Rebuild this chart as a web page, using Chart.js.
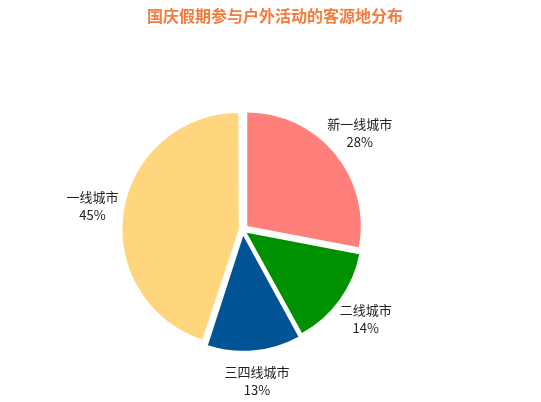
<!DOCTYPE html>
<html><head><meta charset="utf-8">
<script src="https://cdn.jsdelivr.net/npm/chart.js@4.4.1/dist/chart.umd.min.js"></script>
<style>html,body{margin:0;padding:0;background:#fff;} #wrap{width:541px;height:402px;position:relative;}</style>
</head><body><div id="wrap"><canvas id="c"></canvas></div>
<script>
const chartTitle = '国庆假期参与户外活动的客源地分布';
const categories = ['新一线城市', '二线城市', '三四线城市', '一线城市'];
const shares = [28, 14, 13, 45];
const sliceColors = ['#FF807A', '#009100', '#005495', '#FFD57E'];
// visual gap (px) each slice is pulled out from the centre
const sliceGap = [6, 6, 7.5, 6.8];

// Chart.js v4 applies offset/4 * (2 - sin(circumference)); invert that
const total = shares.reduce((a, b) => a + b, 0);
const arcOffsets = shares.map((v, i) => {
  const circ = v / total * 2 * Math.PI;
  return 4 * sliceGap[i] / (2 - Math.sin(Math.min(Math.PI, circ)));
});

const placeArea = {
  id: 'placeArea',
  afterLayout(chart) {
    const a = chart.chartArea;
    a.left = 122.7; a.right = 362.7; a.top = 109.8; a.bottom = 349.8;
    a.width = a.right - a.left; a.height = a.bottom - a.top;
  }
};

const outerLabels = {
  id: 'outerLabels',
  afterDatasetsDraw(chart) {
    const ctx = chart.ctx;
    const meta = chart.getDatasetMeta(0);
    ctx.save();
    ctx.font = '13px "Noto Sans CJK SC", sans-serif';
    ctx.fillStyle = '#222';
    ctx.textAlign = 'center';
    ctx.textBaseline = 'middle';
    meta.data.forEach((arc, i) => {
      const p = arc.getProps(['x', 'y', 'startAngle', 'endAngle', 'outerRadius'], true);
      const mid = (p.startAngle + p.endAngle) / 2;
      const r = p.outerRadius + 38.5;
      const x = p.x + Math.cos(mid) * r;
      const y = p.y + Math.sin(mid) * r;
      ctx.fillText(categories[i], x, y - 9.2);
      ctx.fillText(shares[i] + '%', x, y + 9.2);
    });
    ctx.restore();
  }
};

new Chart(document.getElementById('c'), {
  type: 'pie',
  data: {
    labels: categories,
    datasets: [{
      data: shares,
      backgroundColor: sliceColors,
      borderWidth: 0,
      offset: arcOffsets,
      radius: 113.5,
      clip: false
    }]
  },
  options: {
    responsive: true,
    maintainAspectRatio: false,
    animation: false,
    layout: { padding: { left: 9, right: 0, top: 0, bottom: 0 } },
    plugins: {
      legend: { display: false },
      tooltip: { enabled: false },
      title: {
        display: true,
        text: chartTitle,
        color: '#F47B3B',
        font: { family: '"Noto Sans CJK SC", sans-serif', size: 16, weight: 'bold' },
        padding: { top: 6, bottom: 10 }
      }
    }
  },
  plugins: [placeArea, outerLabels]
});
</script>
</body></html>
